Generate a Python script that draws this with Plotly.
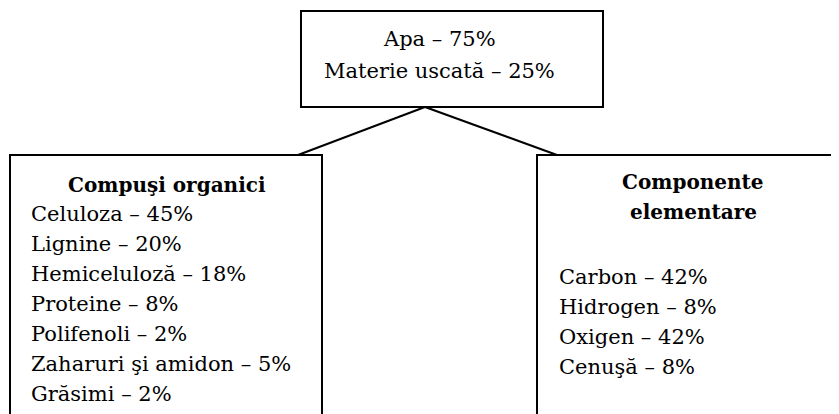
import plotly.graph_objects as go

# ---- data ----
top_names = ["Apa", "Materie uscată"]
top_values = [75, 25]

organic_title = "Compuşi organici"
organic_names = ["Celuloza", "Lignine", "Hemiceluloză", "Proteine", "Polifenoli",
                 "Zaharuri şi amidon", "Grăsimi"]
organic_values = [45, 20, 18, 8, 2, 5, 2]

elem_title = ["Componente", "elementare"]
elem_names = ["Carbon", "Hidrogen", "Oxigen", "Cenuşă"]
elem_values = [42, 8, 42, 8]

W, H = 839, 414
OFF = 8  # page body margin
FONT = "DejaVu Serif"
FS = 21
FS_B = 20
LW = 2

fig = go.Figure()
fig.add_trace(go.Scatter(x=[OFF, W + OFF], y=[OFF, H + OFF], mode="markers",
                         marker=dict(opacity=0), hoverinfo="skip", showlegend=False))

shapes = []
def box(x0, y0, x1, y1):
    shapes.append(dict(type="rect", xref="x", yref="y", x0=x0, y0=y0, x1=x1, y1=y1,
                       line=dict(color="black", width=LW), fillcolor="rgba(0,0,0,0)"))
def line(x0, y0, x1, y1):
    shapes.append(dict(type="line", xref="x", yref="y", x0=x0, y0=y0, x1=x1, y1=y1,
                       line=dict(color="black", width=LW)))

box(301, 11, 603, 107)
box(10, 155, 322, 440)
box(537, 155, 860, 440)
line(425, 107, 298, 155)
line(425, 107, 557, 155)

ann = []
def text(x, baseline, s, anchor="left", bold=False):
    ann.append(dict(x=x, y=baseline - 8, xref="x", yref="y", text=(f"<b>{s}</b>" if bold else s),
                    showarrow=False, xanchor=anchor, yanchor="middle",
                    font=dict(family=FONT, size=(FS_B if bold else FS), color="black")))

for i, (n, v) in enumerate(zip(top_names, top_values)):
    text(439, 47 + 32 * i, f"{n} – {v}%", anchor="center")

text(167, 193, organic_title, anchor="center", bold=True)
for i, (n, v) in enumerate(zip(organic_names, organic_values)):
    text(29, 222 + 30 * i, f"{n} – {v}%")

for i, t in enumerate(elem_title):
    text(693, 190 + 30 * i, t, anchor="center", bold=True)
for i, (n, v) in enumerate(zip(elem_names, elem_values)):
    text(557, 285 + 30 * i, f"{n} – {v}%")

fig.update_layout(
    width=W, height=H, margin=dict(l=0, r=0, t=0, b=0),
    paper_bgcolor="white", plot_bgcolor="white",
    font=dict(family=FONT),
    xaxis=dict(range=[OFF, W + OFF], visible=False, fixedrange=True),
    yaxis=dict(range=[H + OFF, OFF], visible=False, fixedrange=True),
    shapes=shapes, annotations=ann, showlegend=False,
)
fig.write_html("out.html")
